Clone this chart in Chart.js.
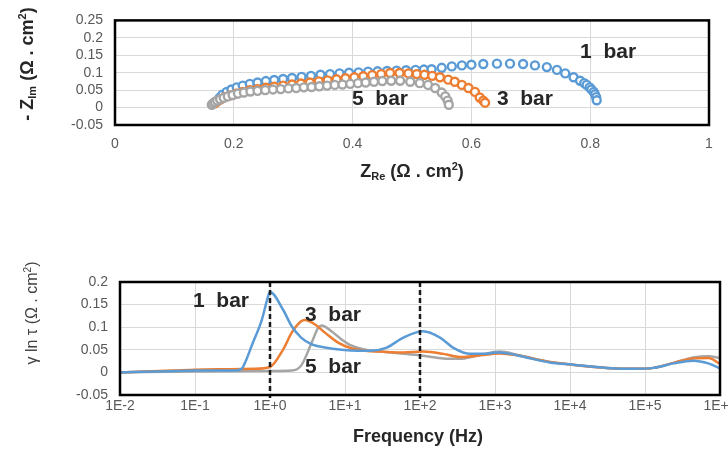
<!DOCTYPE html>
<html>
<head>
<meta charset="utf-8">
<script src="https://cdn.jsdelivr.net/npm/chart.js@4.4.0/dist/chart.umd.min.js"></script>
<style>
  html, body { margin: 0; padding: 0; background: #fff; }
  #wrap { position: relative; width: 728px; height: 449px; overflow: hidden; }
  canvas { position: absolute; left: 0; }
</style>
</head>
<body>
<div id="wrap">
  <canvas id="nyquist" width="728" height="200" style="top:0px"></canvas>
  <canvas id="drt" width="728" height="209" style="top:240px"></canvas>
</div>
<script>
// Nyquist data: [Z_Re, -Z_Im]
var nyq1bar = [
  [0.172,0.018],[0.176,0.028],[0.181,0.037],[0.188,0.045],[0.196,0.052],[0.205,0.058],[0.215,0.063],
  [0.227,0.068],[0.240,0.072],[0.254,0.076],[0.268,0.079],[0.283,0.082],[0.298,0.085],[0.314,0.088],
  [0.330,0.091],[0.346,0.094],[0.362,0.096],[0.378,0.098],[0.394,0.100],[0.410,0.101],[0.426,0.103],
  [0.442,0.104],[0.458,0.105],[0.474,0.106],[0.490,0.107],[0.506,0.108],[0.520,0.109],[0.533,0.110],
  [0.550,0.114],[0.567,0.118],[0.584,0.121],[0.600,0.123],[0.620,0.125],[0.643,0.126],[0.665,0.126],
  [0.687,0.125],[0.707,0.121],[0.727,0.116],[0.744,0.108],[0.758,0.098],[0.772,0.087],[0.783,0.077],
  [0.790,0.070],[0.794,0.065],[0.799,0.058],[0.802,0.052],[0.806,0.045],[0.808,0.038],[0.810,0.030],
  [0.811,0.021]
];
var nyq3bar = [
  [0.168,0.012],[0.172,0.018],[0.178,0.024],[0.185,0.030],[0.194,0.035],[0.204,0.040],[0.215,0.045],
  [0.227,0.050],[0.240,0.053],[0.254,0.057],[0.268,0.060],[0.283,0.063],[0.298,0.066],[0.313,0.069],
  [0.328,0.072],[0.343,0.075],[0.358,0.078],[0.373,0.081],[0.388,0.084],[0.403,0.087],[0.418,0.090],
  [0.433,0.093],[0.448,0.096],[0.463,0.099],[0.479,0.099],[0.494,0.098],[0.508,0.096],[0.521,0.094],
  [0.534,0.091],[0.547,0.087],[0.561,0.080],[0.572,0.074],[0.584,0.065],[0.595,0.056],[0.606,0.045],
  [0.614,0.029],[0.620,0.020],[0.623,0.014]
];
var nyq5bar = [
  [0.163,0.008],[0.165,0.012],[0.168,0.016],[0.172,0.020],[0.177,0.024],[0.183,0.028],[0.190,0.032],
  [0.198,0.036],[0.207,0.040],[0.217,0.043],[0.228,0.046],[0.240,0.048],[0.253,0.050],[0.266,0.052],
  [0.279,0.053],[0.292,0.055],[0.305,0.056],[0.318,0.058],[0.331,0.059],[0.344,0.061],[0.357,0.063],
  [0.370,0.065],[0.383,0.066],[0.396,0.068],[0.409,0.070],[0.422,0.072],[0.436,0.074],[0.450,0.076],
  [0.465,0.077],[0.480,0.077],[0.497,0.074],[0.513,0.070],[0.527,0.065],[0.539,0.056],[0.550,0.043],
  [0.556,0.032],[0.560,0.020],[0.562,0.008]
];

// DRT data: [frequency Hz, gamma ln tau]
var drt1bar = [
  [0.01,0.000],[0.03,0.002],[0.1,0.004],[0.2,0.004],[0.35,0.004],[0.42,0.008],[0.48,0.027],[0.57,0.059],
  [0.78,0.117],[0.95,0.170],[1.0,0.178],[1.5,0.138],[1.95,0.102],[2.6,0.077],[3.6,0.062],[5.4,0.055],
  [9,0.050],[15,0.048],[22,0.048],[36,0.055],[60,0.077],[110,0.091],[185,0.077],[275,0.055],[470,0.041],
  [700,0.041],[1050,0.044],[1600,0.041],[2600,0.033],[5400,0.022],[11000,0.017],[31000,0.010],
  [69000,0.008],[130000,0.010],[240000,0.020],[440000,0.026],[700000,0.020],[1000000,0.009]
];
var drt3bar = [
  [0.01,0.000],[0.05,0.004],[0.1,0.006],[0.3,0.007],[0.6,0.008],[1.0,0.012],[1.5,0.051],[1.95,0.088],
  [2.6,0.113],[2.9,0.116],[4.0,0.106],[5.4,0.088],[8.1,0.066],[12.3,0.053],[18.6,0.048],[30,0.046],
  [60,0.044],[110,0.046],[205,0.041],[340,0.034],[575,0.037],[1170,0.042],[1950,0.038],[5400,0.023],
  [11000,0.017],[31000,0.010],[69000,0.008],[130000,0.010],[240000,0.021],[440000,0.031],
  [700000,0.032],[1000000,0.019]
];
var drt5bar = [
  [0.01,0.000],[0.1,0.002],[1.0,0.003],[1.95,0.004],[2.6,0.015],[3.6,0.066],[4.4,0.099],[4.9,0.104],
  [6.6,0.091],[9,0.073],[12.3,0.059],[18.6,0.050],[30,0.046],[60,0.041],[110,0.037],[205,0.031],
  [340,0.030],[575,0.037],[1170,0.046],[1950,0.039],[5400,0.023],[11000,0.017],[31000,0.010],
  [69000,0.008],[130000,0.010],[240000,0.021],[440000,0.033],[700000,0.036],[1000000,0.032]
];

var freqTickValues = [0.01, 0.1, 1, 10, 100, 1000, 10000, 100000, 1000000];
var freqTickLabels = ['1E-2', '1E-1', '1E+0', '1E+1', '1E+2', '1E+3', '1E+4', '1E+5', '1E+6'];
var markerFreqs = [1, 100];

var nyqNotes = [
  { text: '1  bar', x: 0.783, y: 0.158 },
  { text: '3  bar', x: 0.643, y: 0.024 },
  { text: '5  bar', x: 0.399, y: 0.024 }
];
var drtNotes = [
  { text: '1  bar', x: 0.094, y: 0.157 },
  { text: '3  bar', x: 2.93, y: 0.126 },
  { text: '5  bar', x: 2.93, y: 0.011 }
];

var BLUE = '#5B9BD5', ORANGE = '#ED7D31', GRAY = '#A5A5A5';
var FONT = '"Liberation Sans", Arial, sans-serif';

function pts(list) {
  return list.map(function (p) { return { x: p[0], y: p[1] }; });
}

// excel-like number labels: 0.2, 0.15, 0, -0.05, 1
function numLabel(v) {
  return String(parseFloat(Number(v).toFixed(3)));
}

function drawRich(ctx, parts, cx, cy, rotate, color) {
  ctx.save();
  ctx.translate(cx, cy);
  if (rotate) ctx.rotate(-Math.PI / 2);
  var w = 0;
  parts.forEach(function (p) { ctx.font = p.font; w += ctx.measureText(p.text).width; });
  var x = -w / 2;
  ctx.textBaseline = 'middle';
  ctx.textAlign = 'left';
  ctx.fillStyle = color;
  parts.forEach(function (p) {
    ctx.font = p.font;
    ctx.fillText(p.text, x, p.dy || 0);
    x += ctx.measureText(p.text).width;
  });
  ctx.restore();
}

function notesPlugin(notes) {
  return {
    id: 'notes',
    afterDatasetsDraw: function (chart) {
      var ctx = chart.ctx, xs = chart.scales.x, ys = chart.scales.y;
      ctx.save();
      ctx.font = 'bold 21px ' + FONT;
      ctx.fillStyle = '#262626';
      ctx.textBaseline = 'middle';
      ctx.textAlign = 'left';
      notes.forEach(function (n) {
        ctx.fillText(n.text, xs.getPixelForValue(n.x), ys.getPixelForValue(n.y));
      });
      ctx.restore();
    }
  };
}

var boxPlugin = {
  id: 'box',
  afterDraw: function (chart) {
    var a = chart.chartArea, ctx = chart.ctx;
    ctx.save();
    ctx.strokeStyle = '#000';
    ctx.lineWidth = 2.5;
    ctx.strokeRect(a.left, a.top, a.right - a.left, a.bottom - a.top);
    ctx.restore();
  }
};

var tickFont = { family: FONT, size: 14 };
var B = 'bold 18px ' + FONT, BS = 'bold 11px ' + FONT;

// ---------- top: Nyquist ----------
var nyquistChart = new Chart(document.getElementById('nyquist'), {
  type: 'scatter',
  data: {
    datasets: [
      { label: '5 bar', data: pts(nyq5bar), borderColor: GRAY, order: 0 },
      { label: '3 bar', data: pts(nyq3bar), borderColor: ORANGE, order: 1 },
      { label: '1 bar', data: pts(nyq1bar), borderColor: BLUE, order: 2 }
    ]
  },
  options: {
    responsive: false,
    animation: false,
    devicePixelRatio: 1,
    layout: { autoPadding: false, padding: { top: 13, right: 19, left: 0, bottom: 0 } },
    elements: {
      point: { radius: 4, borderWidth: 2.4, backgroundColor: '#fff', pointStyle: 'circle' }
    },
    plugins: { legend: { display: false }, tooltip: { enabled: false } },
    scales: {
      x: {
        type: 'linear', min: 0, max: 1,
        ticks: { stepSize: 0.2, padding: 11, color: '#595959', font: tickFont, callback: numLabel },
        grid: { color: '#D9D9D9', drawTicks: false },
        border: { display: false },
        afterFit: function (s) { s.height = 75; }
      },
      y: {
        type: 'linear', min: -0.05, max: 0.25,
        ticks: { stepSize: 0.05, autoSkip: false, padding: 12, color: '#595959', font: tickFont, callback: numLabel },
        grid: { color: '#D9D9D9', drawTicks: false },
        border: { display: false },
        afterFit: function (s) { s.width = 115; }
      }
    }
  },
  plugins: [boxPlugin, notesPlugin(nyqNotes), {
    id: 'titles',
    afterDraw: function (chart) {
      var ctx = chart.ctx;
      drawRich(ctx, [
        { text: 'Z', font: B },
        { text: 'Re', font: BS, dy: 5 },
        { text: ' (\u03A9 . cm', font: B },
        { text: '2', font: BS, dy: -5 },
        { text: ')', font: B }
      ], 412, 172, false, '#262626');
      drawRich(ctx, [
        { text: '- ', font: B },
        { text: 'Z', font: B },
        { text: 'Im', font: BS, dy: 5 },
        { text: ' (\u03A9 . cm', font: B },
        { text: '2', font: BS, dy: -5 },
        { text: ')', font: B }
      ], 28, 64, true, '#262626');
    }
  }]
});

// ---------- bottom: DRT ----------
var R = '16px ' + FONT, RS = '10px ' + FONT;
var drtChart = new Chart(document.getElementById('drt'), {
  type: 'line',
  data: {
    datasets: [
      { label: '1 bar', data: pts(drt1bar), borderColor: BLUE },
      { label: '3 bar', data: pts(drt3bar), borderColor: ORANGE },
      { label: '5 bar', data: pts(drt5bar), borderColor: GRAY }
    ]
  },
  options: {
    responsive: false,
    animation: false,
    devicePixelRatio: 1,
    layout: { autoPadding: false, padding: { top: 42, right: 8, left: 0, bottom: 0 } },
    elements: {
      point: { radius: 0 },
      line: { borderWidth: 2.5, cubicInterpolationMode: 'monotone', fill: false }
    },
    plugins: { legend: { display: false }, tooltip: { enabled: false } },
    scales: {
      x: {
        type: 'logarithmic', min: 0.01, max: 1000000,
        afterBuildTicks: function (s) {
          s.ticks = freqTickValues.map(function (v) { return { value: v, major: true }; });
        },
        ticks: {
          autoSkip: false, maxRotation: 0, padding: 3, color: '#595959', font: tickFont,
          callback: function (value, index) { return freqTickLabels[index]; }
        },
        grid: { color: '#D9D9D9', drawTicks: false },
        border: { display: false },
        afterFit: function (s) { s.height = 54; s.paddingRight = 0; s.paddingLeft = 0; }
      },
      y: {
        type: 'linear', min: -0.05, max: 0.2,
        ticks: { stepSize: 0.05, autoSkip: false, padding: 12, color: '#595959', font: tickFont, callback: numLabel },
        grid: { color: '#D9D9D9', drawTicks: false },
        border: { display: false },
        afterFit: function (s) { s.width = 120; }
      }
    }
  },
  plugins: [boxPlugin, {
    id: 'markers',
    afterDatasetsDraw: function (chart) {
      var ctx = chart.ctx, a = chart.chartArea, xs = chart.scales.x;
      ctx.save();
      ctx.strokeStyle = '#1a1a1a';
      ctx.lineWidth = 2.5;
      ctx.setLineDash([5, 3]);
      markerFreqs.forEach(function (f) {
        var px = Math.round(xs.getPixelForValue(f));
        ctx.beginPath();
        ctx.moveTo(px, a.top);
        ctx.lineTo(px, a.bottom + 3);
        ctx.stroke();
      });
      ctx.restore();
    }
  }, notesPlugin(drtNotes), {
    id: 'titles',
    afterDraw: function (chart) {
      var ctx = chart.ctx;
      drawRich(ctx, [{ text: 'Frequency (Hz)', font: B }], 418, 197, false, '#262626');
      drawRich(ctx, [
        { text: '\u03B3 ln \u03C4 (\u03A9 . cm', font: R },
        { text: '2', font: RS, dy: -5 },
        { text: ')', font: R }
      ], 33, 73, true, '#404040');
    }
  }]
});
</script>
</body>
</html>
